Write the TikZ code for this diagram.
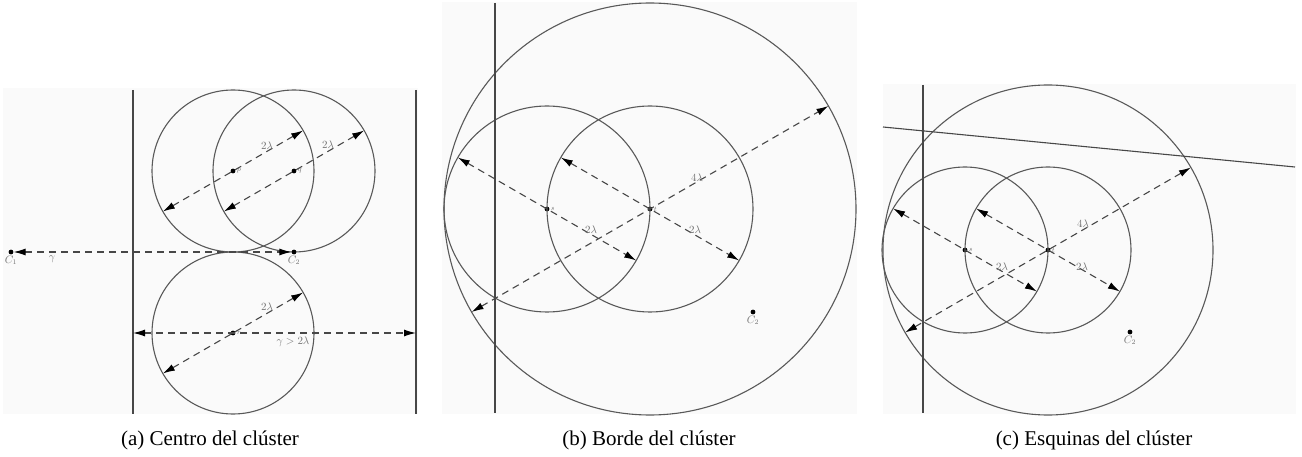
\documentclass[tikz,border=0pt]{standalone}
\usepackage{fontspec}
\setmainfont{Liberation Serif}
\usetikzlibrary{arrows.meta,calc}

\begin{document}
\begin{tikzpicture}[x=1pt, y=-1pt, font=\fontsize{10.5}{12}\selectfont]
    \tikzset{
      center dot/.style={circle,fill=black,inner sep=0pt,minimum size=4.8pt},
      center name/.style={font=\fontsize{7}{8}\selectfont,text=black!55,inner sep=1pt},
      zone/.style={draw=black!65,line width=1.1pt},
      border line/.style={draw=black!72,line width=1.1pt},
      radius line/.style={draw=black!72,line width=1.1pt,dash pattern=on 7pt off 5pt,
        {Latex[length=12pt,width=7pt,fill=black,color=black]}-{Latex[length=12pt,width=7pt,fill=black,color=black]}},
      dim label/.style={text=black!55,inner sep=1pt},
      panel/.style={fill=black!2},
      caption/.style={font=\fontsize{21}{25}\selectfont,anchor=base}
    }
    \useasboundingbox (0,0) rectangle (1302,457);

    % Panel backgrounds
    \fill[panel] (3,88) rectangle (418,414);
    \fill[panel] (442,2) rectangle (857,414);
    \fill[panel] (883,84) rectangle (1296,414);

    % (a) Centre of the cluster
    \node[center dot, label={[center name]right:$p$}] (p) at (233,171) {};
    \node[center dot, label={[center name]right:$q$}] (q) at (294,171) {};
    \node[center dot, label={[center name]right:$r$}] (r) at (233,333) {};
    \draw[zone] (p) circle (81);
    \draw[zone] (q) circle (81);
    \draw[zone] (r) circle (81);

    \coordinate (a_tl) at (133,90);
    \coordinate (a_bl) at (133,414);
    \coordinate (a_tr) at (416,90);
    \coordinate (a_br) at (416,414);
    \draw[border line] (a_tl) -- (a_bl);
    \draw[border line] (a_tr) -- (a_br);

    % Diameters of the three circles
    \coordinate (p_lo) at ($(p)+(150:81)$);
    \coordinate (p_hi) at ($(p)+(-30:81)$);
    \coordinate (q_lo) at ($(q)+(150:81)$);
    \coordinate (q_hi) at ($(q)+(-30:81)$);
    \coordinate (r_lo) at ($(r)+(150:81)$);
    \coordinate (r_hi) at ($(r)+(-30:81)$);
    \draw[radius line] (p_lo) -- (p_hi);
    \draw[radius line] (q_lo) -- (q_hi);
    \draw[radius line] (r_lo) -- (r_hi);
    \node[dim label] (p_len) at (267,146) {$2\lambda$};
    \node[dim label] (q_len) at (328,145) {$2\lambda$};
    \node[dim label] (r_len) at (267,307) {$2\lambda$};

    % Cluster heads and gamma
    \node[center dot, label={[dim label]below:$C_1$}] (c1) at (11,252) {};
    \node[center dot, label={[dim label]below:$C_2$}] (c2) at (294,252) {};
    \draw[radius line] (c1) -- (c2);
    \node[dim label] (gamma) at (52,259) {$\gamma$};

    \coordinate (a_gl) at (133,333);
    \coordinate (a_gr) at (416,333);
    \draw[radius line] (a_gl) -- (a_gr);
    \node[dim label] (gamma_big) at (293,342) {$\gamma > 2\lambda$};

    % (b) Border of the cluster
    \node[center dot, label={[center name]right:$s$}] (s) at (547,209) {};
    \node[center dot, label={[center name]right:$t$}] (t) at (650,209) {};
    \draw[zone] (s) circle (103);
    \draw[zone] (t) circle (103);
    \draw[zone] (t) circle (206);

    \coordinate (b_top) at (495,3);
    \coordinate (b_bot) at (495,413);
    \draw[border line] (b_top) -- (b_bot);

    \coordinate (t_lo) at ($(t)+(150:206)$);
    \coordinate (t_hi) at ($(t)+(-30:206)$);
    \coordinate (s_ul) at ($(s)+(210:103)$);
    \coordinate (s_dr) at ($(s)+(30:103)$);
    \coordinate (t_ul) at ($(t)+(210:103)$);
    \coordinate (t_dr) at ($(t)+(30:103)$);
    \draw[radius line] (t_lo) -- (t_hi);
    \draw[radius line] (s_ul) -- (s_dr);
    \draw[radius line] (t_ul) -- (t_dr);
    \node[dim label] (t_len) at (697,178) {$4\lambda$};
    \node[dim label] (s_len2) at (591,230) {$2\lambda$};
    \node[dim label] (t_len2) at (695,230) {$2\lambda$};

    \node[center dot, label={[dim label]below:$C_2$}] (b_c2) at (753,312) {};

    % (c) Corners of the cluster
    \node[center dot, label={[center name]right:$s$}] (u) at (965,250) {};
    \node[center dot, label={[center name]right:$t$}] (v) at (1048,250) {};
    \draw[zone] (u) circle (83);
    \draw[zone] (v) circle (83);
    \draw[zone] (v) circle (165);

    \coordinate (c_top) at (923,85);
    \coordinate (c_bot) at (923,413);
    \coordinate (c_sl) at (883,127);
    \coordinate (c_sr) at (1295,167);
    \draw[border line] (c_top) -- (c_bot);
    \draw[border line] (c_sl) -- (c_sr);

    \coordinate (v_lo) at ($(v)+(150:165)$);
    \coordinate (v_hi) at ($(v)+(-30:165)$);
    \coordinate (u_ul) at ($(u)+(210:83)$);
    \coordinate (u_dr) at ($(u)+(30:83)$);
    \coordinate (v_ul) at ($(v)+(210:83)$);
    \coordinate (v_dr) at ($(v)+(30:83)$);
    \draw[radius line] (v_lo) -- (v_hi);
    \draw[radius line] (u_ul) -- (u_dr);
    \draw[radius line] (v_ul) -- (v_dr);
    \node[dim label] (v_len) at (1083,224) {$4\lambda$};
    \node[dim label] (u_len2) at (1002,267) {$2\lambda$};
    \node[dim label] (v_len2) at (1082,267) {$2\lambda$};

    \node[center dot, label={[dim label]below:$C_2$}] (c_c2) at (1130,332) {};

    % Captions
    \node[caption] (cap_a) at (210,445) {(a) Centro del clúster};
    \node[caption] (cap_b) at (649,445) {(b) Borde del clúster};
    \node[caption] (cap_c) at (1094,445) {(c) Esquinas del clúster};
\end{tikzpicture}
\end{document}
